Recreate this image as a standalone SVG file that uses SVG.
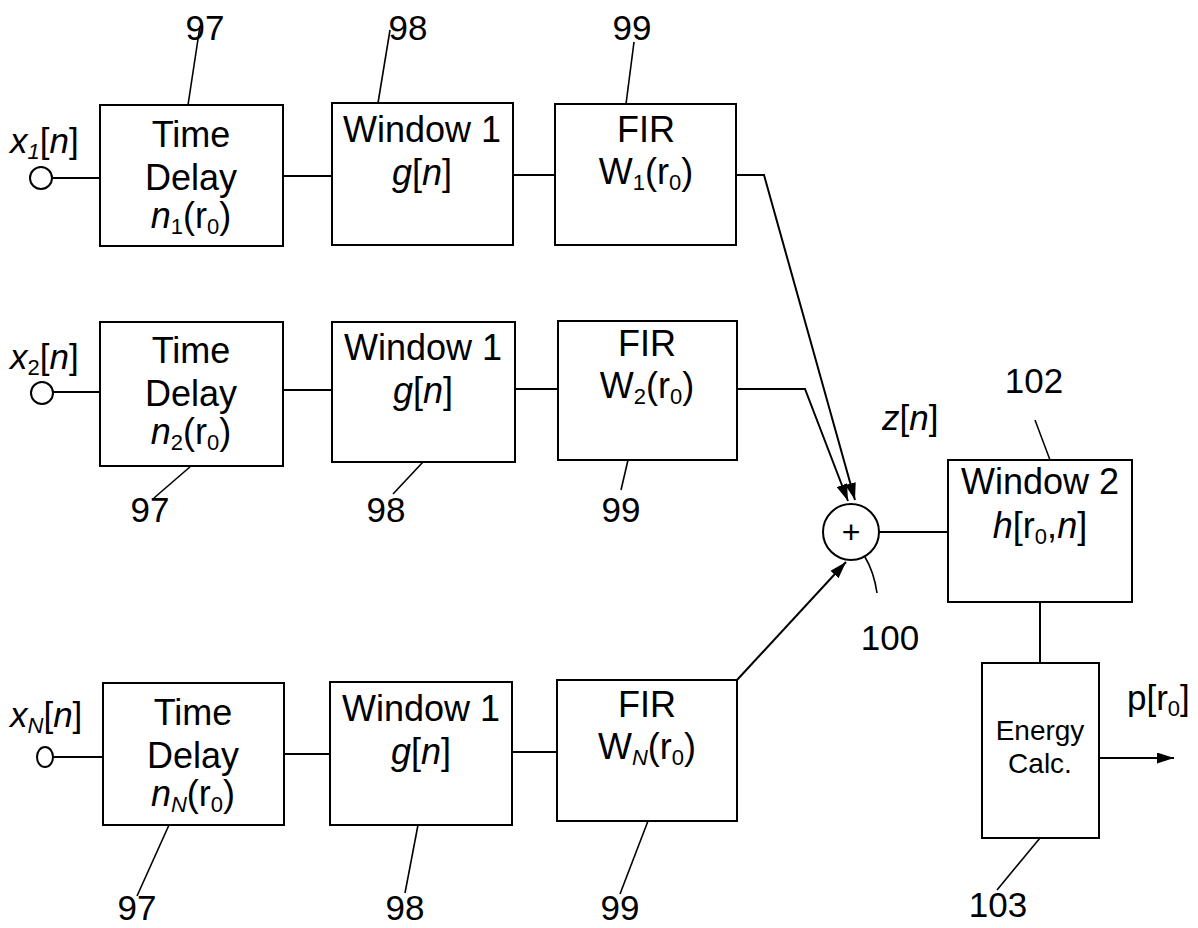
<svg xmlns="http://www.w3.org/2000/svg" width="1198" height="928" viewBox="0 0 1198 928">
<defs>
<style>
.box{fill:#fff;stroke:#000;stroke-width:2}
.ln{fill:none;stroke:#000;stroke-width:2}
.ld{fill:none;stroke:#000;stroke-width:1.6}
text{font-family:"Liberation Sans",Arial,sans-serif;fill:#000}
.t{font-size:36px;text-anchor:middle}
.num{font-size:35px;text-anchor:middle}
.lab{font-size:35px}
.sm{font-size:28px;text-anchor:middle}
.i{font-style:italic}
.s{font-size:22px}
</style>
<marker id="ah" viewBox="0 0 17 11" refX="17" refY="5.5" markerWidth="17" markerHeight="11" markerUnits="userSpaceOnUse" orient="auto">
<path d="M0,0 L17,5.5 L0,11 z" fill="#000"/>
</marker>
</defs>
<rect width="1198" height="928" fill="#fff"/>

<g id="connectors">
<line class="ln" x1="53" y1="178" x2="100" y2="178"/>
<line class="ln" x1="283" y1="176" x2="332" y2="176"/>
<line class="ln" x1="513" y1="175" x2="555" y2="175"/>
<polyline class="ln" points="736,175 764,175 855,500" marker-end="url(#ah)"/>
<line class="ln" x1="53" y1="392" x2="100" y2="392"/>
<line class="ln" x1="283" y1="390" x2="332" y2="390"/>
<line class="ln" x1="515" y1="389" x2="558" y2="389"/>
<polyline class="ln" points="737,389 805,389 848,501" marker-end="url(#ah)"/>
<line class="ln" x1="53" y1="757" x2="103" y2="757"/>
<line class="ln" x1="284" y1="754" x2="330" y2="754"/>
<line class="ln" x1="512" y1="752" x2="557" y2="752"/>
<line class="ln" x1="737" y1="680" x2="846" y2="562" marker-end="url(#ah)"/>
<line class="ln" x1="879" y1="532" x2="948" y2="532"/>
<line class="ln" x1="1040" y1="602" x2="1040" y2="663"/>
<line class="ln" x1="1099" y1="758" x2="1174" y2="758" marker-end="url(#ah)"/>
</g>

<g id="leaders">
<line class="ld" x1="200" y1="26" x2="188" y2="105"/>
<line class="ld" x1="390" y1="30" x2="378" y2="103"/>
<line class="ld" x1="634" y1="42" x2="626" y2="104"/>
<line class="ld" x1="191" y1="466" x2="154" y2="498"/>
<line class="ld" x1="423" y1="462" x2="393" y2="494"/>
<line class="ld" x1="628" y1="460" x2="621" y2="490"/>
<line class="ld" x1="169" y1="825" x2="137" y2="896"/>
<line class="ld" x1="418" y1="825" x2="405" y2="893"/>
<line class="ld" x1="648" y1="821" x2="620" y2="894"/>
<path class="ld" d="M865,557 Q874,572 877,593"/>
<line class="ld" x1="1035" y1="420" x2="1050" y2="460"/>
<line class="ld" x1="1040" y1="838" x2="997" y2="890"/>
</g>

<g id="labels">
<text class="num" x="205" y="40">97</text>
<text class="num" x="408" y="40">98</text>
<text class="num" x="632" y="40">99</text>
<text class="num" x="150" y="522">97</text>
<text class="num" x="386" y="522">98</text>
<text class="num" x="621" y="522">99</text>
<text class="num" x="137" y="920">97</text>
<text class="num" x="405" y="920">98</text>
<text class="num" x="620" y="920">99</text>
<text class="num" x="890" y="650">100</text>
<text class="num" x="1034" y="393">102</text>
<text class="num" x="998" y="917">103</text>
<text class="lab" x="882" y="430"><tspan class="i">z</tspan>[<tspan class="i">n</tspan>]</text>
<text class="lab" x="1127" y="710">p[r<tspan class="s" dy="6">0</tspan><tspan dy="-6">]</tspan></text>
</g>

<g id="in1">
<circle class="box" cx="41" cy="178" r="11"/>
<text class="lab" x="10" y="153"><tspan class="i">x</tspan><tspan class="s i" dy="6">1</tspan><tspan dy="-6">[</tspan><tspan class="i">n</tspan>]</text>
</g>
<g id="in2">
<circle class="box" cx="42" cy="393" r="11"/>
<text class="lab" x="10" y="369"><tspan class="i">x</tspan><tspan class="s" dy="6">2</tspan><tspan dy="-6">[</tspan><tspan class="i">n</tspan>]</text>
</g>
<g id="inN">
<ellipse class="box" cx="45" cy="757" rx="8" ry="10"/>
<text class="lab" x="10" y="727"><tspan class="i">x</tspan><tspan class="s i" dy="6">N</tspan><tspan dy="-6">[</tspan><tspan class="i">n</tspan>]</text>
</g>

<g id="td1">
<rect class="box" x="100" y="105" width="183" height="141"/>
<text class="t" x="191" y="147">Time</text>
<text class="t" x="191" y="190">Delay</text>
<text class="t" x="191" y="228"><tspan class="i">n</tspan><tspan class="s" dy="6">1</tspan><tspan dy="-6">(r</tspan><tspan class="s" dy="6">0</tspan><tspan dy="-6">)</tspan></text>
</g>
<g id="w1a">
<rect class="box" x="332" y="103" width="181" height="142"/>
<text class="t" x="422" y="142">Window 1</text>
<text class="t" x="422" y="185"><tspan class="i">g</tspan>[<tspan class="i">n</tspan>]</text>
</g>
<g id="fir1">
<rect class="box" x="555" y="104" width="181" height="141"/>
<text class="t" x="646" y="142">FIR</text>
<text class="t" x="646" y="184">W<tspan class="s" dy="6">1</tspan><tspan dy="-6">(r</tspan><tspan class="s" dy="6">0</tspan><tspan dy="-6">)</tspan></text>
</g>

<g id="td2">
<rect class="box" x="100" y="322" width="183" height="144"/>
<text class="t" x="191" y="363">Time</text>
<text class="t" x="191" y="406">Delay</text>
<text class="t" x="191" y="444"><tspan class="i">n</tspan><tspan class="s" dy="6">2</tspan><tspan dy="-6">(r</tspan><tspan class="s" dy="6">0</tspan><tspan dy="-6">)</tspan></text>
</g>
<g id="w1b">
<rect class="box" x="332" y="322" width="183" height="140"/>
<text class="t" x="423" y="360">Window 1</text>
<text class="t" x="423" y="403"><tspan class="i">g</tspan>[<tspan class="i">n</tspan>]</text>
</g>
<g id="fir2">
<rect class="box" x="558" y="321" width="179" height="139"/>
<text class="t" x="647" y="356">FIR</text>
<text class="t" x="647" y="398">W<tspan class="s" dy="6">2</tspan><tspan dy="-6">(r</tspan><tspan class="s" dy="6">0</tspan><tspan dy="-6">)</tspan></text>
</g>

<g id="tdN">
<rect class="box" x="103" y="683" width="181" height="142"/>
<text class="t" x="193" y="725">Time</text>
<text class="t" x="193" y="768">Delay</text>
<text class="t" x="193" y="806"><tspan class="i">n</tspan><tspan class="s i" dy="6">N</tspan><tspan dy="-6">(r</tspan><tspan class="s" dy="6">0</tspan><tspan dy="-6">)</tspan></text>
</g>
<g id="w1c">
<rect class="box" x="330" y="682" width="182" height="143"/>
<text class="t" x="421" y="721">Window 1</text>
<text class="t" x="421" y="764"><tspan class="i">g</tspan>[<tspan class="i">n</tspan>]</text>
</g>
<g id="firN">
<rect class="box" x="557" y="680" width="180" height="141"/>
<text class="t" x="647" y="717">FIR</text>
<text class="t" x="647" y="759">W<tspan class="s i" dy="6">N</tspan><tspan dy="-6">(r</tspan><tspan class="s" dy="6">0</tspan><tspan dy="-6">)</tspan></text>
</g>

<g id="sum">
<circle class="box" cx="851" cy="532" r="28"/>
<text x="851" y="543" font-size="32" text-anchor="middle">+</text>
</g>
<g id="win2">
<rect class="box" x="948" y="460" width="184" height="142"/>
<text class="t" x="1040" y="494">Window 2</text>
<text class="t" x="1040" y="538"><tspan class="i">h</tspan>[r<tspan class="s" dy="6">0</tspan><tspan dy="-6">,</tspan><tspan class="i">n</tspan>]</text>
</g>
<g id="energy">
<rect class="box" x="982" y="663" width="117" height="175"/>
<text class="sm" x="1040" y="740">Energy</text>
<text class="sm" x="1040" y="773">Calc.</text>
</g>
</svg>
